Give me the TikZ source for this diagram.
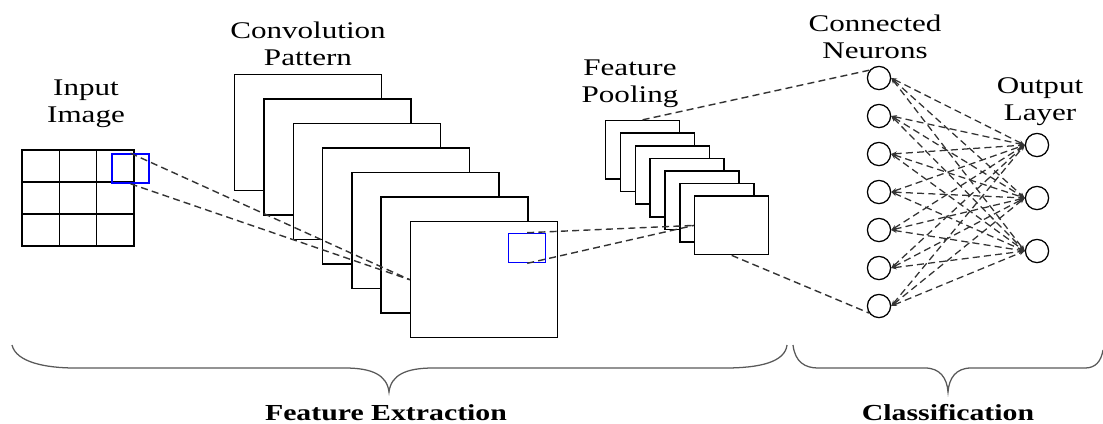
\documentclass[tikz,border=0pt]{standalone}
\usepackage{fontspec}
\setmainfont{Liberation Serif}[FakeStretch=1.3]
\usetikzlibrary{arrows.meta}

\begin{document}
\begin{tikzpicture}[x=0.025cm, y=-0.025cm,
    box/.style={draw, line width=1.1pt, fill=white, inner sep=0pt},
    convbox/.style={box, minimum width=3.675cm, minimum height=2.9cm},
    poolbox/.style={box, minimum width=1.85cm, minimum height=1.46cm},
    cell/.style={draw, line width=1.1pt, inner sep=0pt, minimum width=0.933cm, minimum height=0.8cm},
    window/.style={draw=blue, line width=1pt, inner sep=0pt, minimum width=0.925cm, minimum height=0.73cm},
    neuron/.style={circle, draw, line width=0.9pt, inner sep=0pt, minimum size=0.58cm},
    link/.style={dash pattern=on 5pt off 3pt, line width=1pt, black!80},
    wire/.style={link, line width=0.9pt, {Stealth[length=4pt,width=3pt]}-{Stealth[length=4pt,width=3pt]}},
    maintext/.style={align=center, font=\fontsize{17}{19.2}\selectfont},
    caption/.style={anchor=base, font=\fontsize{16.3}{19}\selectfont\bfseries},
    brace/.style={line width=0.9pt, black!65}]
    \useasboundingbox (0,0) rectangle (1103,423);
    % input image
    \foreach \r in {1,2,3}
        \foreach \c in {1,2,3}
            \node[cell] (in-\r-\c) at ({22+37.33*(\c-0.5)}, {150+32*(\r-0.5)}) {};
    \node[window] (win-in) at (130.5,168.5) {};
    \node[maintext] (lbl-input) at (86,104) {Input\\Image};
    % convolution pattern
    \foreach \i in {1,...,7}
        \node[convbox] (conv-\i) at ({308.2+29.3*(\i-1)}, {132.7+24.5*(\i-1)}) {};
    \node[window] (win-conv) at (527.2,248) {};
    \node[maintext] (lbl-conv) at (308,44) {Convolution\\Pattern};
    \draw[link] (win-in.north) -- (conv-7.west);
    \draw[link] (win-in.south) -- (conv-7.west);
    % feature pooling
    \foreach \i in {1,...,7}
        \node[poolbox] (pool-\i) at ({642.6+14.85*(\i-1)}, {149.8+12.6*(\i-1)}) {};
    \node[maintext] (lbl-pool) at (630,84) {Feature\\Pooling};
    \draw[link] (win-conv.north) -- (pool-7.west);
    \draw[link] (win-conv.south) -- (pool-7.west);
    % connected neurons and output layer
    \foreach \i in {1,...,7}
        \node[neuron] (hid-\i) at (879, {78+38*(\i-1)}) {};
    \foreach \j/\y in {1/145, 2/198, 3/251}
        \node[neuron] (out-\j) at (1037,\y) {};
    \foreach \i in {1,...,7}
        \foreach \j in {1,2,3}
            \draw[wire] (hid-\i.east) -- (out-\j.west);
    \draw[link] (pool-1.north) -- (hid-1.140);
    \draw[link] (pool-7.south) -- (hid-7.215);
    \node[maintext] (lbl-hid) at (875,37) {Connected\\Neurons};
    \node[maintext] (lbl-out) at (1040,101.5) {Output\\Layer};
    % braces
    \draw[brace] (12,345) .. controls (16,362) and (45,368) .. (75,368) -- (345,368)
        .. controls (372,368) and (387,375) .. (389,392)
        .. controls (391,375) and (406,368) .. (433,368) -- (725,368)
        .. controls (760,368) and (785,362) .. (787,345);
    \draw[brace] (793,345) .. controls (795,362) and (805,368) .. (818,368) -- (925,368)
        .. controls (940,368) and (947,378) .. (948,392)
        .. controls (949,378) and (956,368) .. (971,368) -- (1085,368)
        .. controls (1095,368) and (1101,362) .. (1103,350);
    \node[caption] (cap-feat) at (386,420) {Feature Extraction};
    \node[caption] (cap-class) at (948,420) {Classification};
\end{tikzpicture}
\end{document}
